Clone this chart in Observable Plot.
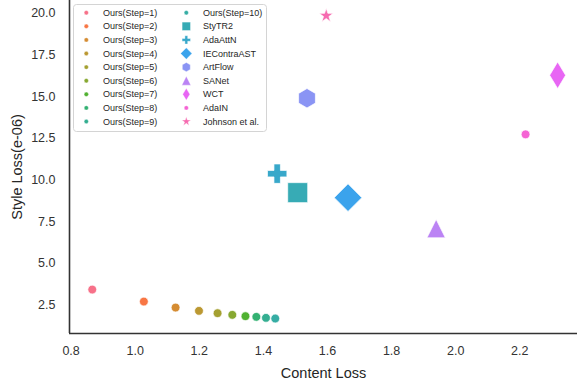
<!DOCTYPE html>
<html><head><meta charset="utf-8">
<script src="https://cdn.jsdelivr.net/npm/d3@7"></script>
<script src="https://cdn.jsdelivr.net/npm/@observablehq/plot@0.6"></script>
<style>
html,body{margin:0;padding:0;background:#fff;}
#chart{position:relative;width:577px;height:381px;font-family:"Liberation Sans",Arial,sans-serif;}
#legend{position:absolute;left:73px;top:4px;}
</style></head><body><div id="chart"></div>
<script>
// ---- data ----
const methods = ["Ours(Step=1)","Ours(Step=2)","Ours(Step=3)","Ours(Step=4)","Ours(Step=5)","Ours(Step=6)","Ours(Step=7)","Ours(Step=8)","Ours(Step=9)","Ours(Step=10)","StyTR2","AdaAttN","IEContraAST","ArtFlow","SANet","WCT","AdaIN","Johnson et al."];
const contentLoss = [0.866,1.027,1.126,1.199,1.257,1.303,1.344,1.378,1.408,1.437,1.507,1.443,1.664,1.536,1.939,2.318,2.218,1.596];
const styleLoss   = [3.42,2.70,2.34,2.14,2.00,1.90,1.82,1.78,1.72,1.68,9.24,10.38,8.94,14.91,7.08,16.29,12.74,19.87];
const markerKind  = ["o","o","o","o","o","o","o","o","o","o","s","P","D","h","^","d","o","*"];
const xTicks = [0.8,1.0,1.2,1.4,1.6,1.8,2.0,2.2];
const yTicks = [2.5,5.0,7.5,10.0,12.5,15.0,17.5,20.0];
const xLabel = "Content Loss";
const yLabel = "Style Loss(e-06)";

// ---- husl palette (seaborn style) ----
function huslToHex(h, s, l) {
  const M = [[3.240969941904521,-1.537383177570093,-0.498610760293],[-0.96924363628087,1.87596750150772,0.041555057407175],[0.055630079696993,-0.20397695888897,1.056971514242878]];
  const refU=0.19783000664283, refV=0.46831999493879, kappa=903.2962962, eps=0.0088564516;
  const sub1=Math.pow(l+16,3)/1560896, sub2=sub1>eps?sub1:l/kappa;
  const hr=h/360*2*Math.PI;
  let maxC=Infinity;
  for (const [m1,m2,m3] of M) for (const t of [0,1]) {
    const top1=(284517*m1-94839*m3)*sub2;
    const top2=(838422*m3+769860*m2+731718*m1)*l*sub2-769860*t*l;
    const bottom=(632260*m3-126452*m2)*sub2+126452*t;
    const sl=top1/bottom, ic=top2/bottom;
    const len=ic/(Math.sin(hr)-sl*Math.cos(hr));
    if (len>=0) maxC=Math.min(maxC,len);
  }
  const C=maxC/100*s, U=C*Math.cos(hr), V=C*Math.sin(hr);
  const varU=U/(13*l)+refU, varV=V/(13*l)+refV;
  const Y=l<=8?l/kappa:Math.pow((l+16)/116,3);
  const X=-(9*Y*varU)/((varU-4)*varV-varU*varV);
  const Z=(9*Y-15*varV*Y-varV*X)/(3*varV);
  const rgb=M.map(r=>r[0]*X+r[1]*Y+r[2]*Z).map(c=>c<=0.0031308?12.92*c:1.055*Math.pow(c,1/2.4)-0.055).map(c=>Math.round(Math.max(0,Math.min(1,c))*255));
  return d3.rgb(rgb[0],rgb[1],rgb[2]).formatHex();
}
const palette = methods.map((m,i)=>huslToHex(((i/methods.length+0.01)%1)*359, 89.1, 64.35));

// ---- marker shapes ----
const R = size => Math.sqrt(size/Math.PI);
const symbols = {
  o: {draw(c,s){const r=R(s); c.moveTo(r,0); c.arc(0,0,r,0,2*Math.PI);}},
  s: {draw(c,s){const r=R(s); c.rect(-r,-r,2*r,2*r);}},
  P: {draw(c,s){const r=R(s), w=r/3; c.moveTo(-w,-r);c.lineTo(w,-r);c.lineTo(w,-w);c.lineTo(r,-w);c.lineTo(r,w);c.lineTo(w,w);c.lineTo(w,r);c.lineTo(-w,r);c.lineTo(-w,w);c.lineTo(-r,w);c.lineTo(-r,-w);c.lineTo(-w,-w);c.closePath();}},
  D: {draw(c,s){const r=R(s); c.moveTo(0,-r);c.lineTo(r,0);c.lineTo(0,r);c.lineTo(-r,0);c.closePath();}},
  d: {draw(c,s){const r=R(s), w=r*0.6; c.moveTo(0,-r);c.lineTo(w,0);c.lineTo(0,r);c.lineTo(-w,0);c.closePath();}},
  h: {draw(c,s){const r=R(s); for(let k=0;k<6;k++){const a=-Math.PI/2+k*Math.PI/3; const px=r*Math.cos(a), py=r*Math.sin(a); k?c.lineTo(px,py):c.moveTo(px,py);} c.closePath();}},
  "^": {draw(c,s){const r=R(s); c.moveTo(0,-r);c.lineTo(r,r);c.lineTo(-r,r);c.closePath();}},
  "*": {draw(c,s){const r=R(s), ri=r*0.382; for(let k=0;k<10;k++){const a=-Math.PI/2+k*Math.PI/5, rr=k%2?ri:r; const px=rr*Math.cos(a), py=rr*Math.sin(a); k?c.lineTo(px,py):c.moveTo(px,py);} c.closePath();}}
};
// plot radius and legend radius per marker kind
const markerSize = {o:[4.4,2.2], s:[10,4.2], P:[9.7,4.2], D:[13.8,5.7], d:[13.3,6], h:[9.7,4.6], "^":[9.2,4.5], "*":[7.4,4.8]};

const rows = methods.map((m,i)=>({method:m, x:contentLoss[i], y:styleLoss[i], kind:markerKind[i]}));
const xDomain=[0.795,2.38], yDomain=[0.78,20.78];
const ink="#262626";

const dotMarks = Object.keys(symbols).map(k=>Plot.dot(rows.filter(d=>d.kind===k), {
  x:"x", y:"y", fill:"method", symbol:symbols[k], r:markerSize[k][0], stroke:"white", strokeWidth:0.7
}));

const chart = Plot.plot({
  width:577, height:381,
  marginLeft:69, marginBottom:48, marginTop:0, marginRight:0,
  style:{fontFamily:"'Liberation Sans', Arial, sans-serif", fontSize:"12.5px", color:ink, background:"white", overflow:"visible"},
  x:{domain:xDomain},
  y:{domain:yDomain},
  color:{domain:methods, range:palette},
  marks:[
    Plot.axisX({ticks:xTicks, tickFormat:".1f", tickSize:0, tickPadding:13, label:null, fill:"#333"}),
    Plot.axisY({ticks:yTicks, tickFormat:".1f", tickSize:0, tickPadding:14, label:null, fill:"#333"}),
    Plot.ruleX([xDomain[0]], {stroke:"#333", strokeWidth:1.6}),
    Plot.ruleY([yDomain[0]], {stroke:"#333", strokeWidth:1.6}),
    ...dotMarks,
    Plot.text([xLabel], {frameAnchor:"bottom", lineAnchor:"middle", dy:39.5, fontSize:14.5, fill:ink}),
    Plot.text([yLabel], {frameAnchor:"left", textAnchor:"middle", lineAnchor:"middle", rotate:-90, dx:-52, fontSize:14.5, fill:ink})
  ]
});
const host=document.getElementById("chart");
host.appendChild(chart);

// ---- legend ----
const lw=193, lh=127;
const leg=d3.select(host).append("svg").attr("id","legend").attr("width",lw+1).attr("height",lh+1);
leg.append("rect").attr("x",0.5).attr("y",0.5).attr("width",lw).attr("height",lh).attr("rx",3)
  .attr("fill","white").attr("fill-opacity",0.8).attr("stroke","#d4d4d4").attr("stroke-width",1);
rows.forEach((d,i)=>{
  const col=i<9?0:1, row=i%9;
  const cx=col?113.3:13.3, cy=8.7+13.6*row;
  const lr=markerSize[d.kind][1];
  leg.append("path").attr("d",d3.symbol(symbols[d.kind], Math.PI*lr*lr)())
    .attr("transform",`translate(${cx},${cy})`).attr("fill",palette[i]).attr("stroke","white").attr("stroke-width",0.4);
  leg.append("text").attr("x",col?130:30).attr("y",cy).attr("dy","0.35em")
    .attr("font-size",9).attr("font-family","'Liberation Sans', Arial, sans-serif").attr("fill",ink).text(d.method);
});
</script></body></html>
